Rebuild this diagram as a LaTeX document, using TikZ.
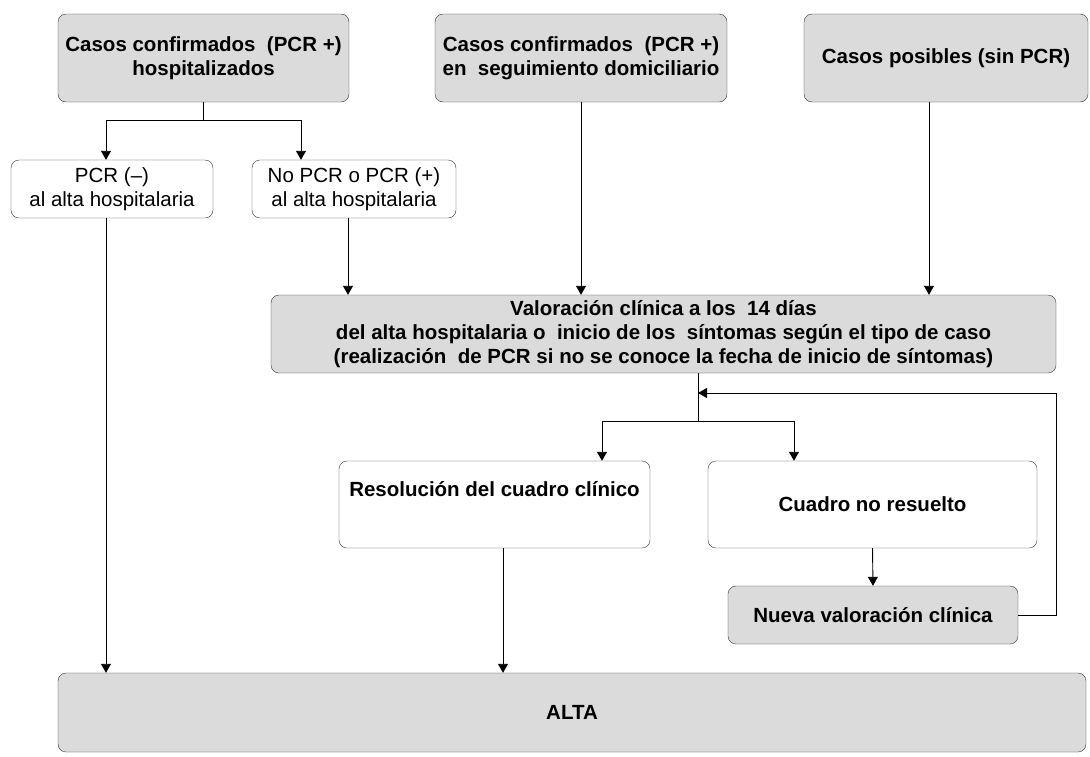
\documentclass[tikz,border=0pt]{standalone}
\usepackage{fontspec}
\setmainfont{Liberation Sans}
\usepackage{tikz}
\usetikzlibrary{arrows.meta}

\tikzset{
	caja/.style={draw=black!80, rounded corners=8pt, inner sep=0pt, align=center, font=\fontsize{20.5}{24}\selectfont},
	gris/.style={caja, fill=black!14, font=\fontsize{20.5}{24}\selectfont\bfseries},
	blanca/.style={caja, fill=white},
	negrita/.style={font=\fontsize{20.5}{24}\selectfont\bfseries},
	flecha/.style={-{Triangle[width=10pt,length=9pt]}, line width=0.9pt},
}

\begin{document}
\begin{tikzpicture}[x=1pt,y=-1pt]
		\useasboundingbox (0,0) rectangle (1090,756);
		% casos de partida
		\node[gris, minimum width=291pt, minimum height=88pt] (hosp) at (203.5,58) {Casos confirmados\ \ (PCR +)\\hospitalizados};
		\node[gris, minimum width=292pt, minimum height=88pt] (domic) at (581,58) {Casos confirmados\ \ (PCR +)\\en\ \ seguimiento domiciliario};
		\node[gris, minimum width=284pt, minimum height=88pt] (posib) at (946,58) {Casos posibles (sin PCR)};
		\node[blanca, minimum width=202pt, minimum height=58pt] (pcrneg) at (112,189) {PCR (–)\\al alta hospitalaria};
		\node[blanca, minimum width=204pt, minimum height=58pt] (pcrpos) at (354,189) {No PCR o PCR (+)\\al alta hospitalaria};
		% valoracion
		\node[gris, minimum width=785pt, minimum height=78pt] (valor) at (663.5,334) {Valoración clínica a los\ \ 14 días\\del alta hospitalaria o\ \ inicio de los\ \ síntomas según el tipo de caso\\(realización\ \ de PCR si no se conoce la fecha de inicio de síntomas)};
		\node[blanca, negrita, minimum width=311pt, minimum height=87pt] (resol) at (494.5,504.5) {Resolución del cuadro clínico\\\strut};
		\node[blanca, negrita, minimum width=329pt, minimum height=87pt] (noresu) at (872.5,504.5) {Cuadro no resuelto};
		\node[gris, minimum width=290pt, minimum height=58pt] (nueva) at (873,615) {Nueva valoración clínica};
		\node[gris, minimum width=1028pt, minimum height=79pt] (alta) at (572,712.5) {ALTA};
		\coordinate (rama) at (698,421);
		\coordinate (vuelta) at (1056,393);
		%\path[->] (hosp) edge (pcrneg);
		\draw[flecha] (hosp.south) -- ++(0,18) -| ([xshift=-6pt]pcrneg.north);
		\draw[flecha] (hosp.south) -- ++(0,18) -| ([xshift=-53pt]pcrpos.north);
		\draw[flecha] ([xshift=-6pt]pcrneg.south) -- ([xshift=-6pt]pcrneg.south |- alta.north);
		\draw[flecha] ([xshift=-6pt]pcrpos.south) -- ([xshift=-6pt]pcrpos.south |- valor.north);
		\draw[flecha] (domic.south) -- (domic.south |- valor.north);
		\draw[flecha] ([xshift=-17pt]posib.south) -- ([xshift=-17pt]posib.south |- valor.north);
		\draw (valor.south -| rama) -- (rama);
		\draw[flecha] (rama) -| ([xshift=107.5pt]resol.north);
		\draw[flecha] (rama) -| ([xshift=-78.5pt]noresu.north);
		\draw[flecha] (noresu.south) -- (nueva.north);
		\draw[flecha] (nueva.east) -| (vuelta) -- (vuelta -| rama);
		\draw[flecha] ([xshift=8.5pt]resol.south) -- ([xshift=8.5pt]resol.south |- alta.north);
\end{tikzpicture}
\end{document}
